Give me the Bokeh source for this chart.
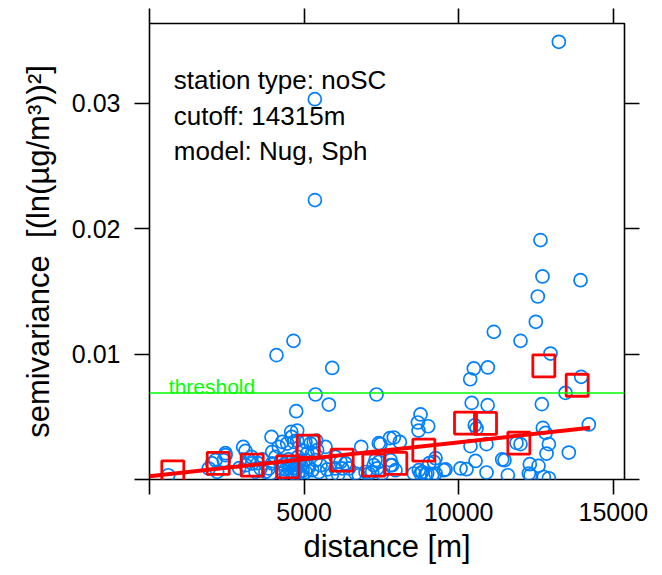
from bokeh.plotting import figure
from bokeh.models import Range1d, FixedTicker, LinearAxis, Span, Label
from bokeh.embed import file_html
from bokeh.resources import INLINE

# ---- data ----
dist = [
    13238, 5346, 5350, 12645, 12710, 13940, 12558, 12494, 11136, 11999,
    4657, 4107, 12969, 5908, 10489, 10942, 10372, 13962, 5369, 7342,
    13454, 5800, 12688, 10420, 10936, 4744, 8765, 14208, 8680, 9013,
    8700, 10521, 10576, 12721, 12808, 12916, 12840, 13561, 11869, 11999,
    10382, 10899, 7901, 8095, 7470, 10544, 10253, 10899, 11407, 11481,
    12300, 12581, 11589, 12322, 12753, 12916, 9573, 9250, 9200, 9050,
    8548, 8765, 8926, 7795, 3946, 4583, 4600, 5391, 3030, 6846,
    7416, 7773, 2458, 4291, 4453, 4668, 4776, 4182, 3968, 4075,
    4776, 5045, 5207, 5314, 5692, 4938, 5100, 5262, 5423, 5045,
    5369, 5531, 5045, 5262, 5154, 5477, 4830, 6015, 6177, 6339,
    6446, 6231, 6015, 7416, 7309, 7254, 7362, 7200, 7524, 7795,
    7849, 7956, 7092, 6985, 8710, 8819, 8980, 9142, 9250, 6662,
    6770, 604, 1918, 2027, 2134, 2189, 2458, 2403, 3105, 3212,
    3321, 3105, 3428, 3590, 3968, 3859, 3751, 3913, 4250, 4350,
    4400, 4450, 4500, 4550, 4600, 4650, 4700, 4750, 4800, 4850,
    4900, 4950, 4300, 4400, 4600, 4700, 4800, 4500, 4250, 4950,
    2900, 3300, 3500, 3650, 5750, 5900, 6100, 10058, 12268, 9519,
]
gamma = [
    0.03492, 0.03034, 0.02229, 0.0191, 0.0162, 0.0159, 0.0146, 0.01258, 0.01178, 0.01106,
    0.01106, 0.00992, 0.01005, 0.0089, 0.00886, 0.00894, 0.0080, 0.00819, 0.00678, 0.00678,
    0.00691, 0.00598, 0.00601, 0.00611, 0.00593, 0.00545, 0.00519, 0.00439, 0.00455, 0.00425,
    0.0039, 0.00433, 0.00407, 0.00412, 0.00372, 0.00282, 0.00207, 0.00215, 0.00292, 0.00282,
    0.00266, 0.00282, 0.00335, 0.0030, 0.00282, 0.00148, 0.00082, 0.00056, 0.0016, 0.00154,
    0.00122, 0.00109, 0.00034, 0.00034, 0.0002, 0.0001, 0.0008, 0.0017, 0.0014, 0.0013,
    0.00048, 0.00048, 0.00042, 0.00114, 0.0034, 0.0038, 0.0034, 0.0031, 0.0026, 0.0026,
    0.0029, 0.0033, 0.0021, 0.0030, 0.00287, 0.0030, 0.0031, 0.0026, 0.0022, 0.0018,
    0.0039, 0.0030, 0.00287, 0.0030, 0.0026, 0.00234, 0.00207, 0.00207, 0.00234, 0.00154,
    0.00154, 0.00114, 0.0006, 0.00074, 0.0010, 0.0006, 0.0006, 0.0018, 0.0014, 0.00128,
    0.00088, 0.00088, 0.00088, 0.0014, 0.00154, 0.00114, 0.00088, 0.0006, 0.00048, 0.00154,
    0.00114, 0.00074, 0.00048, 0.0006, 0.00074, 0.0006, 0.00048, 0.00034, 0.00048, 0.00048,
    0.00034, 0.00034, 0.00088, 0.00128, 0.00154, 0.00061, 0.00194, 0.00154, 0.00228, 0.00154,
    0.00128, 0.00114, 0.00061, 0.00088, 0.00128, 0.00088, 0.00061, 0.00048, 0.0015, 0.0012,
    0.0008, 0.0004, 0.0016, 0.0011, 0.0006, 0.0002, 0.0013, 0.0009, 0.0004, 0.0015,
    0.0011, 0.0007, 0.0005, 0.0002, 0.0014, 0.0005, 0.0018, 0.0009, 0.0009, 0.0003,
    0.0009, 0.0018, 0.0013, 0.0016, 0.0008, 0.0004, 0.0004, 0.00088, 0.00048, 0.00074,
]

bin_dist = [754, 2222, 3321, 4473, 5132, 6231, 7254, 7966, 8872, 10220, 10867, 11945, 12753, 13832]
bin_gamma = [0.00061, 0.00128, 0.00114, 0.0010, 0.00266, 0.00154, 0.00114, 0.00128, 0.00234,
             0.00450, 0.00447, 0.00290, 0.00907, 0.00752]

model_dist = [0, 7000, 14250]
model_gamma = [0.00026, 0.00216, 0.00412]

threshold = 0.0069

# labelled ticks and the unlabelled tick at zero
x_tick_vals = [5000, 10000, 15000]
x_tick_labels = ["5000", "10000", "15000"]
y_tick_vals = [0.01, 0.02, 0.03]
y_tick_labels = ["0.01", "0.02", "0.03"]
x_zero_tick = [0]
y_zero_tick = [0]

info_lines = ["station type: noSC", "cutoff: 14315m", "model: Nug, Sph"]

FONT = "Liberation Sans"

p = figure(width=662, height=575, output_backend="svg", toolbar_location=None,
           x_range=Range1d(0, 15362), y_range=Range1d(0, 0.03638),
           min_border_left=149, min_border_right=38, min_border_top=23, min_border_bottom=96,
           x_axis_label="distance [m]",
           y_axis_label="semivariance\u00a0 [(ln(\u00b5g/m\u00b3))\u00b2]")
p.grid.visible = False
p.background_fill_color = "white"
p.border_fill_color = "white"
p.outline_line_color = "black"
p.outline_line_width = 1.6

# extra axes that only carry ticks (no labels) on top and right
p.add_layout(LinearAxis(), "above")
p.add_layout(LinearAxis(), "right")

bx, lx = p.below[0], p.left[0]
tx, rx = p.above[0], p.right[0]

bx.ticker = FixedTicker(ticks=x_tick_vals, minor_ticks=x_zero_tick)
bx.major_label_overrides = {v: l for v, l in zip(x_tick_vals, x_tick_labels)}
lx.ticker = FixedTicker(ticks=y_tick_vals, minor_ticks=y_zero_tick)
lx.major_label_overrides = {v: l for v, l in zip(y_tick_vals, y_tick_labels)}
tx.ticker = FixedTicker(ticks=[], minor_ticks=x_zero_tick + x_tick_vals)
rx.ticker = FixedTicker(ticks=[], minor_ticks=y_zero_tick + y_tick_vals)

for ax in p.axis:
    ax.axis_line_color = None
    ax.major_tick_in = 0
    ax.major_tick_out = 15
    ax.minor_tick_in = 0
    ax.minor_tick_out = 15
    ax.major_tick_line_width = 1.6
    ax.minor_tick_line_width = 1.6
    ax.major_tick_line_color = "black"
    ax.minor_tick_line_color = "black"
    ax.major_label_text_font = FONT
    ax.major_label_text_font_size = "25px"
    ax.major_label_text_color = "black"
    ax.axis_label_text_font = FONT
    ax.axis_label_text_font_style = "normal"
    ax.axis_label_text_color = "black"
    ax.axis_label_text_font_size = "31px"

bx.major_label_standoff = 8
bx.axis_label_standoff = 5
lx.major_label_standoff = 14
lx.axis_label_standoff = 13
lx.axis_label_text_font_size = "31px"

thr = Span(location=threshold, dimension="width", line_color="#00FF00", line_width=1.7)
p.add_layout(thr)

p.scatter(dist, gamma, marker="circle", size=13, fill_color=None,
          line_color="#0080FF", line_width=1.7)
p.scatter(bin_dist, bin_gamma, marker="square", size=22, fill_color=None,
          line_color="#FF0000", line_width=2.8)
p.line(model_dist, model_gamma, line_color="#FF0000", line_width=4)

p.add_layout(Label(x=624, y=0.00739, text="threshold", text_font=FONT,
                   text_font_size="21px", text_color="#00FF00", text_baseline="alphabetic"))
for i, t in enumerate(info_lines):
    p.add_layout(Label(x=786, y=0.03186 - i * 0.00283, text=t, text_font=FONT,
                       text_font_size="26px", text_color="black", text_baseline="alphabetic"))

open("out.html", "w").write(file_html(p, INLINE))
